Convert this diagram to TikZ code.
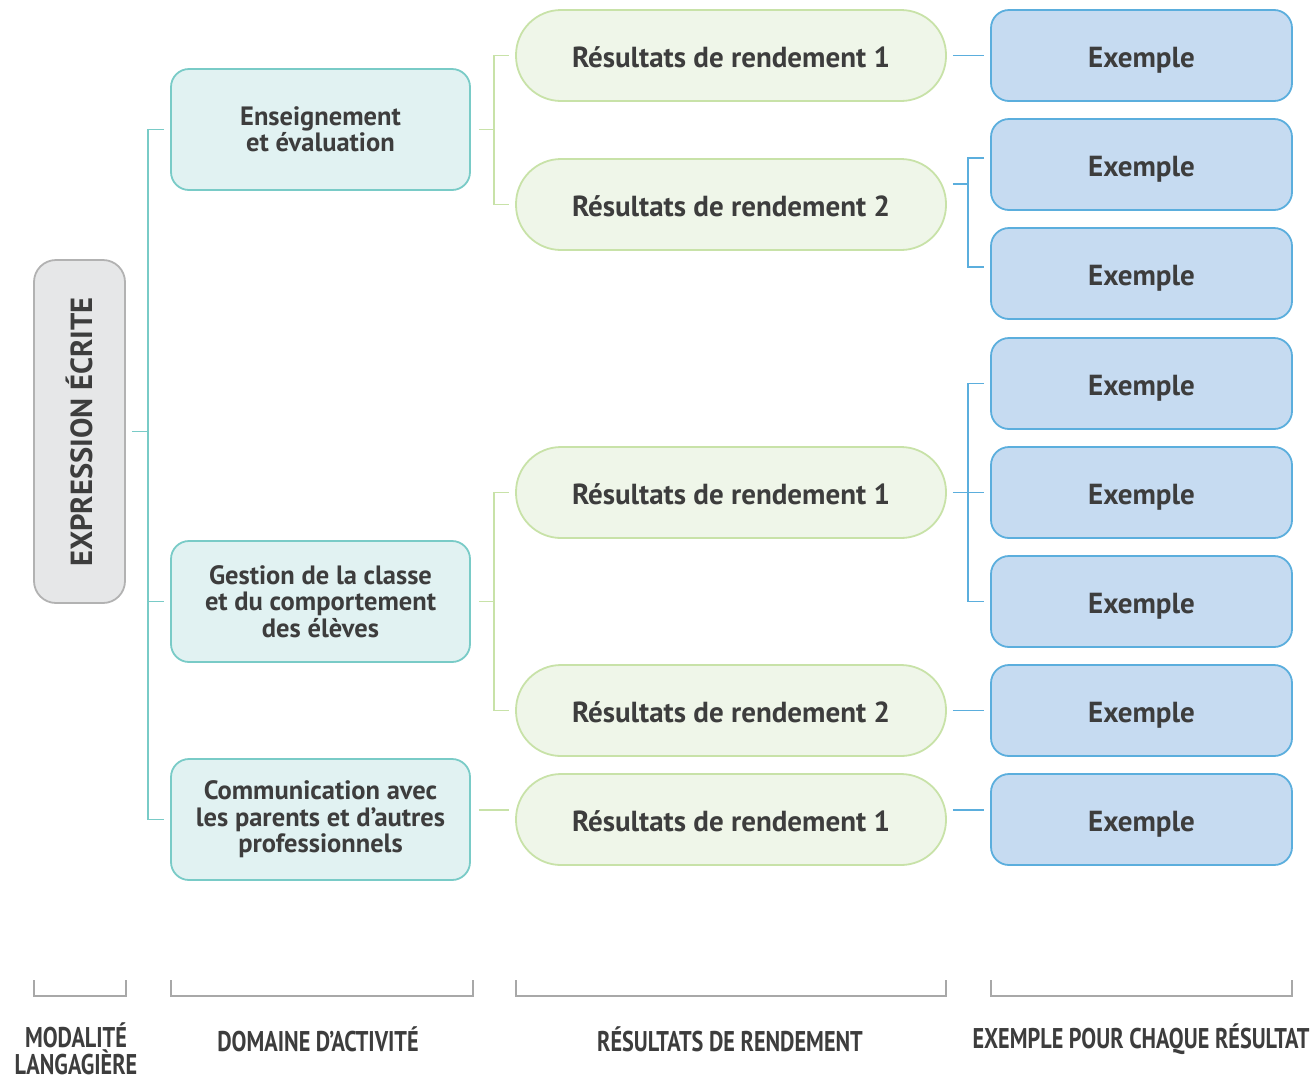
\documentclass[tikz,border=0pt]{standalone}
\usepackage{fontspec}
\setmainfont{PT Sans}
\newfontfamily\condfont[FakeStretch=0.78]{PT Sans}
\definecolor{txt}{HTML}{3D3D3D}
\definecolor{tealB}{HTML}{79CBC7}
\definecolor{tealF}{HTML}{E1F2F2}
\definecolor{grnB}{HTML}{C8E2A8}
\definecolor{grnF}{HTML}{EFF6E9}
\definecolor{bluB}{HTML}{5BAEDD}
\definecolor{bluF}{HTML}{C6DBF1}
\definecolor{gryB}{HTML}{B2B2B2}
\definecolor{gryF}{HTML}{E6E7E8}
\definecolor{brk}{HTML}{A8A8A8}
\begin{document}
\begin{tikzpicture}[x=1pt,y=-1pt,
  base/.style={inner sep=0pt, text=txt, font=\bfseries\fontsize{26.5}{26.5}\selectfont, align=center, line width=1.8pt},
  modbox/.style={base, draw=gryB, fill=gryF, rounded corners=22pt, minimum width=91pt, minimum height=343pt},
  dombox/.style={base, draw=tealB, fill=tealF, rounded corners=18pt, minimum width=299pt, minimum height=121pt},
  resbox/.style={base, draw=grnB, fill=grnF, rounded corners=45pt, minimum width=430pt, minimum height=91pt, font=\bfseries\fontsize{29}{29}\selectfont, text height=23pt, text depth=0pt},
  exbox/.style={base, draw=bluB, fill=bluF, rounded corners=18pt, minimum width=301pt, minimum height=91pt, font=\bfseries\fontsize{29}{29}\selectfont, text height=23pt, text depth=0pt},
  tline/.style={draw=tealB, line width=1.3pt},
  gline/.style={draw=grnB, line width=1.3pt},
  bline/.style={draw=bluB, line width=1.3pt},
  kline/.style={draw=brk, line width=1.3pt},
  caption/.style={inner sep=0pt, text=txt, font=\condfont\bfseries\fontsize{28.5}{26.5}\selectfont, align=center}
]
\useasboundingbox (0,0) rectangle (1313,1080);

% modality
\node[modbox] (expr) at (79.5,431.5) {};
\node[inner sep=0pt, text=txt, font=\bfseries\fontsize{30.5}{30.5}\selectfont, rotate=90] (exprlbl) at (79,432) {EXPRESSION ÉCRITE};

% domains
\node[dombox] (d1) at (320.5,129.5) {Enseignement\\et évaluation};
\node[dombox] (d2) at (320.5,601.5) {Gestion de la classe\\et du comportement\\des élèves};
\node[dombox] (d3) at (320.5,819.5) {Communication avec\\les parents et d’autres\\professionnels};

% results
\node[resbox] (r1) at (731,55.5) {Résultats de rendement 1};
\node[resbox] (r2) at (731,204.5) {Résultats de rendement 2};
\node[resbox] (r3) at (731,492.5) {Résultats de rendement 1};
\node[resbox] (r4) at (731,710.5) {Résultats de rendement 2};
\node[resbox] (r5) at (731,819.5) {Résultats de rendement 1};

% examples
\node[exbox] (e1) at (1141.5,55.5) {Exemple};
\node[exbox] (e2) at (1141.5,164.5) {Exemple};
\node[exbox] (e3) at (1141.5,273.5) {Exemple};
\node[exbox] (e4) at (1141.5,383.5) {Exemple};
\node[exbox] (e5) at (1141.5,492.5) {Exemple};
\node[exbox] (e6) at (1141.5,601.5) {Exemple};
\node[exbox] (e7) at (1141.5,710.5) {Exemple};
\node[exbox] (e8) at (1141.5,819.5) {Exemple};

% teal connectors
\coordinate (tv) at (148,0);
\draw[tline] ([xshift=6pt]expr.east) -- (tv|-expr.east);
\draw[tline] ([xshift=-6pt]d1.west) -- (tv|-d1.west) -- (tv|-d3.west) -- ([xshift=-6pt]d3.west);
\draw[tline] (tv|-d2.west) -- ([xshift=-6pt]d2.west);

% green connectors
\coordinate (gv) at (494,0);
\draw[gline] ([xshift=8pt]d1.east) -- (gv|-d1.east);
\draw[gline] ([xshift=-6pt]r1.west) -- (gv|-r1.west) -- (gv|-r2.west) -- ([xshift=-6pt]r2.west);
\draw[gline] ([xshift=8pt]d2.east) -- (gv|-d2.east);
\draw[gline] ([xshift=-6pt]r3.west) -- (gv|-r3.west) -- (gv|-r4.west) -- ([xshift=-6pt]r4.west);
\draw[gline] ([xshift=8pt,yshift=9.5pt]d3.east) -- ([xshift=-6pt,yshift=9.5pt]r5.west);

% blue connectors
\coordinate (bv) at (968,0);
\draw[bline] ([xshift=6pt]r1.east) -- ([xshift=-6pt]e1.west);
\draw[bline] ([xshift=6pt,yshift=20.5pt]r2.east) -- ([yshift=20.5pt]bv|-r2.east);
\draw[bline] ([xshift=-6pt,yshift=6.5pt]e2.west) -- ([yshift=6.5pt]bv|-e2.west) -- ([yshift=6.5pt]bv|-e3.west) -- ([xshift=-6pt,yshift=6.5pt]e3.west);
\draw[bline] ([xshift=6pt]r3.east) -- ([xshift=-6pt]e5.west);
\draw[bline] ([xshift=-6pt]e4.west) -- (bv|-e4.west) -- (bv|-e6.west) -- ([xshift=-6pt]e6.west);
\draw[bline] ([xshift=6pt]r4.east) -- ([xshift=-6pt]e7.west);
\draw[bline] ([xshift=6pt,yshift=9.5pt]r5.east) -- ([xshift=-6pt,yshift=9.5pt]e8.west);

% bottom brackets
\coordinate (k1a) at (34,980); \coordinate (k1b) at (126,980);
\coordinate (k2a) at (171,980); \coordinate (k2b) at (473,980);
\coordinate (k3a) at (516,980); \coordinate (k3b) at (946,980);
\coordinate (k4a) at (991,980); \coordinate (k4b) at (1292,980);
\draw[kline] (k1a) -- ++(0,16) -| (k1b);
\draw[kline] (k2a) -- ++(0,16) -| (k2b);
\draw[kline] (k3a) -- ++(0,16) -| (k3b);
\draw[kline] (k4a) -- ++(0,16) -| (k4b);

\node[caption] (c1) at (76,1049) {MODALITÉ\\LANGAGIÈRE};
\node[caption] (c2) at (318,1039) {DOMAINE D’ACTIVITÉ};
\node[caption] (c3) at (730,1039) {RÉSULTATS DE RENDEMENT};
\node[caption] (c4) at (1141,1039) {EXEMPLE POUR CHAQUE RÉSULTAT};
\end{tikzpicture}
\end{document}
